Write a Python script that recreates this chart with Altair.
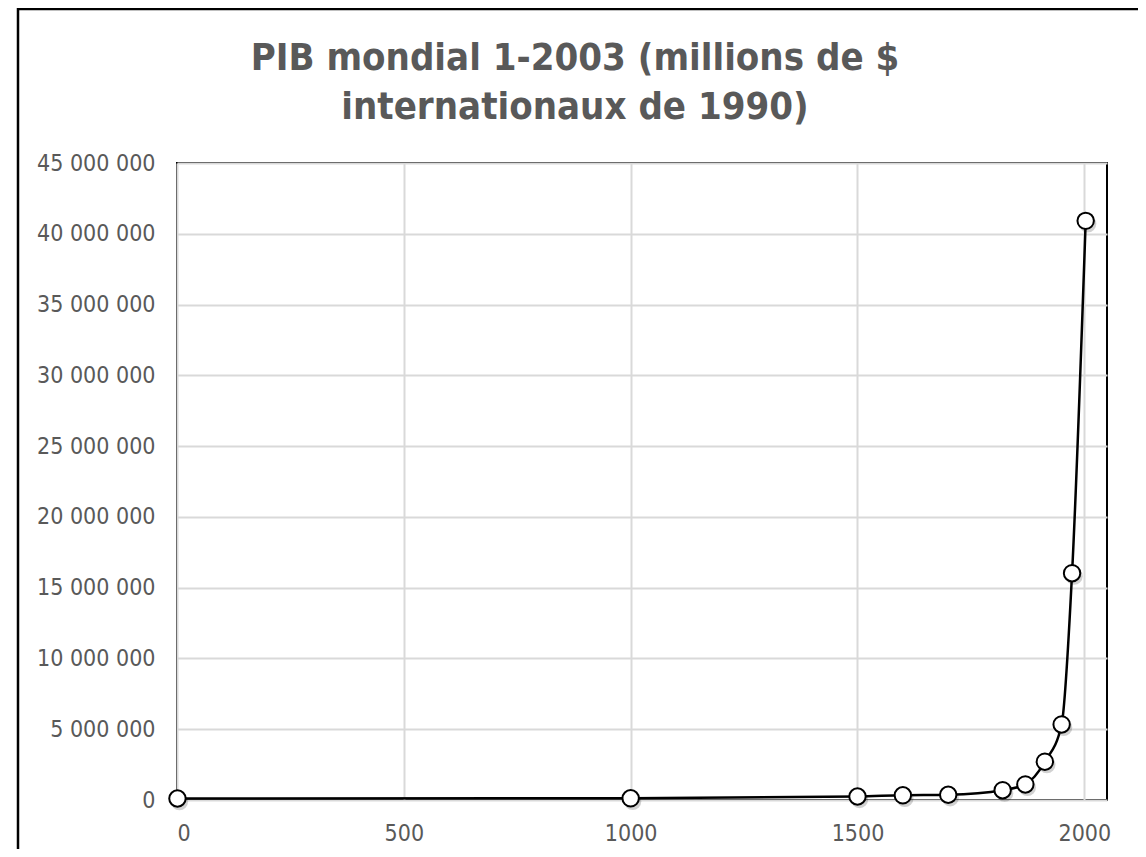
import altair as alt
import pandas as pd

years = [1, 1000, 1500, 1600, 1700, 1820, 1870, 1913, 1950, 1973, 2003]
gdp = [105402, 121208, 248445, 331562, 371428, 694598, 1101369, 2704782, 5336101, 16022959, 40913389]
title_lines = ["PIB mondial 1-2003 (millions de $", "internationaux de 1990)"]

df = pd.DataFrame({"annee": years, "pib": gdp})

W, H = 930, 637
lab_expr = "replace(replace(format(datum.value, ',d'), ',', ' '), ',', ' ')"
FONT = "DejaVu Sans Condensed"

x = alt.X("annee:Q", scale=alt.Scale(domain=[0, 2050], nice=False),
          axis=alt.Axis(values=[0, 500, 1000, 1500, 2000], title=None, grid=True, format="d",
                        gridColor="#d9d9d9", gridWidth=2, domain=False, ticks=False,
                        labelFontSize=23, labelColor="#595959", labelPadding=22,
                        labelFont=FONT))
y = alt.Y("pib:Q", scale=alt.Scale(domain=[0, 45000000], nice=False),
          axis=alt.Axis(values=list(range(0, 45000001, 5000000)), title=None, grid=True,
                        gridColor="#d9d9d9", gridWidth=2, domain=False, ticks=False,
                        labelFontSize=23, labelColor="#595959", labelPadding=22,
                        labelFont=FONT, labelExpr=lab_expr))

base = alt.Chart(df)

frame = alt.Chart(pd.DataFrame({"k": [0]})).mark_rect(
    fill=None, stroke="black", strokeWidth=2.5, clip=False
).encode(x=alt.value(-159), x2=alt.value(W + 80), y=alt.value(-154), y2=alt.value(H + 120))

t1 = alt.Chart(pd.DataFrame({"t": [title_lines[0]]})).mark_text(
    font=FONT, fontSize=38, fontWeight="bold", color="#595959", align="center",
    baseline="alphabetic"
).encode(text="t:N", x=alt.value(398), y=alt.value(70 - 163))
t2 = alt.Chart(pd.DataFrame({"t": [title_lines[1]]})).mark_text(
    font=FONT, fontSize=38, fontWeight="bold", color="#595959", align="center",
    baseline="alphabetic"
).encode(text="t:N", x=alt.value(398), y=alt.value(119 - 163))

line = base.mark_line(color="black", strokeWidth=2.5, interpolate="monotone").encode(x=x, y=y)
shadow = base.mark_circle(color="#000000", opacity=0.18, size=300, xOffset=2, yOffset=3).encode(x=x, y=y)
pts = base.mark_point(filled=True, fill="white", stroke="black", strokeWidth=2, size=270,
                      opacity=1, shape="circle").encode(x=x, y=y)

chart = alt.layer(frame, t1, t2, line, shadow, pts).properties(
    width=W, height=H,
    autosize=alt.AutoSizeParams(type="none"),
    padding={"left": 169, "top": 155, "right": 31, "bottom": 49},
).configure_view(stroke="black", strokeWidth=2)

chart.save("out.html", embed_options={"renderer": "svg", "actions": False})
